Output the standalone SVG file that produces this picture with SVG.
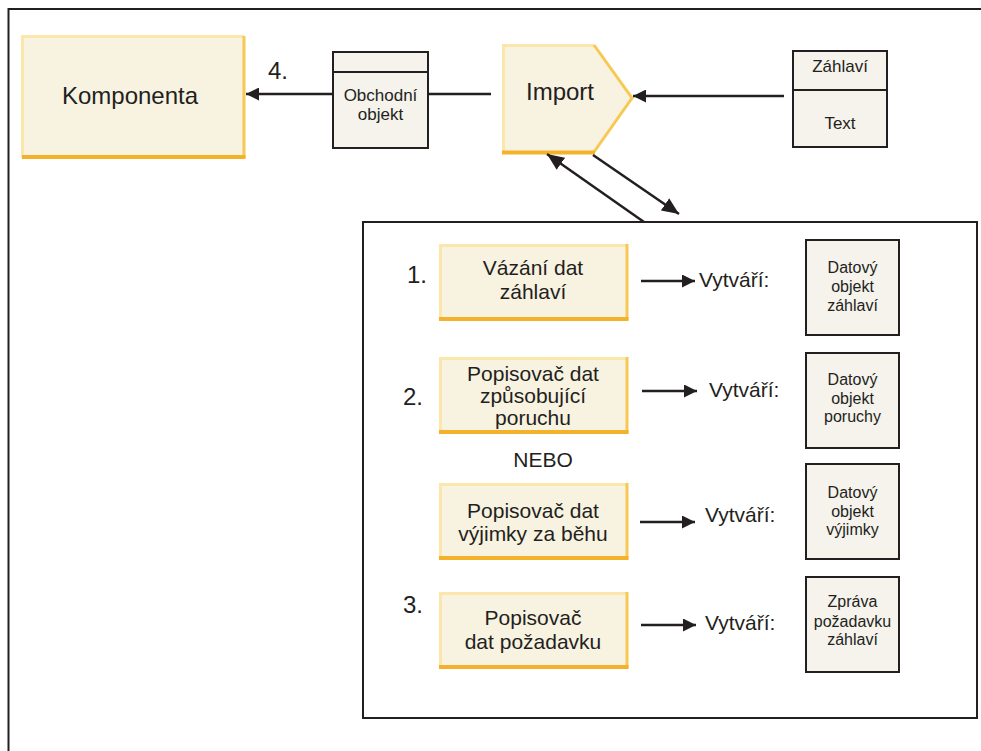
<svg xmlns="http://www.w3.org/2000/svg" width="981" height="751" viewBox="0 0 981 751">
<defs>
<style>
text{font-family:"Liberation Sans",Arial,sans-serif;fill:#231f20}
.c{text-anchor:middle}
.frame{fill:none;stroke:#231f20;stroke-width:2}
.yfill{fill:#f8f2e0}
.ylt{stroke:#fbe6ab;stroke-width:3;fill:none}
.yrt{stroke:#f7c853;stroke-width:3;fill:none}
.ybt{stroke:#f4b22b;stroke-width:4;fill:none}
.obj{fill:#f5f3ec;stroke:#231f20;stroke-width:2}
.ln{stroke:#231f20;stroke-width:2.5;fill:none}
.big{font-size:24px}
.num{font-size:24px}
.mid{font-size:21px}
.sm{font-size:17px}
.xs{font-size:16px}
</style>
<marker id="ah" viewBox="0 0 12 12" refX="12" refY="6" markerWidth="13" markerHeight="13" markerUnits="userSpaceOnUse" orient="auto">
<path d="M0,0 L12,6 L0,12 Z" fill="#231f20"/>
</marker>
<marker id="ahl" viewBox="0 0 16 14" refX="16" refY="7" markerWidth="17" markerHeight="15" markerUnits="userSpaceOnUse" orient="auto">
<path d="M0,0 L16,7 L0,14 Z" fill="#231f20"/>
</marker>
</defs>
<rect width="981" height="751" fill="#ffffff"/>
<path class="frame" d="M8.5,751 V9 H981"/>

<g id="komponenta">
<rect class="yfill" x="22" y="36" width="223" height="122"/>
<path class="ylt" d="M22.5,158 V36.5 H244"/>
<path class="yrt" d="M244,36 V158"/>
<path class="ybt" d="M22,157 H245.5"/>
<text class="big c" x="130" y="104">Komponenta</text>
</g>

<g id="label4"><text class="big" x="268" y="79">4.</text></g>

<g id="obchodni-objekt">
<rect class="obj" x="333" y="52" width="95" height="96"/>
<line x1="333" y1="72" x2="428" y2="72" stroke="#231f20" stroke-width="2"/>
<text class="sm c" x="380.5" y="101">Obchodní</text>
<text class="sm c" x="380.5" y="120">objekt</text>
</g>

<g id="import">
<path class="yfill" d="M502,44 H594 L633,98 L594,153 H502 Z"/>
<path class="ylt" d="M503.5,153 V45.5 H594"/>
<path class="yrt" d="M594,45 L632,98 L594,152"/>
<path class="ybt" d="M502,152.5 H595"/>
<text class="big c" x="560" y="100">Import</text>
</g>

<g id="zahlavi-text">
<rect class="obj" x="793" y="51" width="94" height="96"/>
<line x1="793" y1="90" x2="887" y2="90" stroke="#231f20" stroke-width="2"/>
<text class="sm c" x="840" y="72">Záhlaví</text>
<text class="sm c" x="840" y="129">Text</text>
</g>

<g id="inner-frame">
<rect x="363" y="222" width="614" height="496" fill="none" stroke="#231f20" stroke-width="2"/>
</g>

<g id="row1">
<text class="num" x="407" y="283">1.</text>
<rect class="yfill" x="439" y="244" width="189" height="76"/>
<path class="ylt" d="M440.5,320 V245.5 H627"/>
<path class="yrt" d="M627,244 V320"/>
<path class="ybt" d="M439,319 H628.5"/>
<text class="mid c" x="533" y="275">Vázání dat</text>
<text class="mid c" x="533" y="299">záhlaví</text>
<text class="mid" x="699" y="287">Vytváří:</text>
</g>
<g id="obj1">
<rect class="obj" x="806" y="240" width="93" height="95"/>
<text class="xs c" x="852.5" y="273">Datový</text>
<text class="xs c" x="852.5" y="292">objekt</text>
<text class="xs c" x="852.5" y="311">záhlaví</text>
</g>

<g id="row2">
<text class="num" x="403" y="405">2.</text>
<rect class="yfill" x="439" y="357" width="189" height="76"/>
<path class="ylt" d="M440.5,433 V358.5 H627"/>
<path class="yrt" d="M627,357 V433"/>
<path class="ybt" d="M439,432 H628.5"/>
<text class="mid c" x="533" y="381">Popisovač dat</text>
<text class="mid c" x="533" y="403">způsobující</text>
<text class="mid c" x="533" y="425">poruchu</text>
<text class="mid" x="709" y="397">Vytváří:</text>
</g>
<g id="obj2">
<rect class="obj" x="806" y="353" width="93" height="95"/>
<text class="xs c" x="852.5" y="385">Datový</text>
<text class="xs c" x="852.5" y="404">objekt</text>
<text class="xs c" x="852.5" y="422">poruchy</text>
</g>

<g id="nebo"><text class="mid c" x="543" y="467">NEBO</text></g>

<g id="row3">
<rect class="yfill" x="439" y="483" width="189" height="76"/>
<path class="ylt" d="M440.5,559 V484.5 H627"/>
<path class="yrt" d="M627,483 V559"/>
<path class="ybt" d="M439,558 H628.5"/>
<text class="mid c" x="533" y="518">Popisovač dat</text>
<text class="mid c" x="533" y="541">výjimky za běhu</text>
<text class="mid" x="705" y="522">Vytváří:</text>
</g>
<g id="obj3">
<rect class="obj" x="806" y="464" width="93" height="95"/>
<text class="xs c" x="852.5" y="498">Datový</text>
<text class="xs c" x="852.5" y="517">objekt</text>
<text class="xs c" x="852.5" y="535">výjimky</text>
</g>

<g id="row4">
<text class="num" x="403" y="613">3.</text>
<rect class="yfill" x="439" y="592" width="189" height="76"/>
<path class="ylt" d="M440.5,668 V593.5 H627"/>
<path class="yrt" d="M627,592 V668"/>
<path class="ybt" d="M439,667 H628.5"/>
<text class="mid c" x="533" y="625">Popisovač</text>
<text class="mid c" x="533" y="649">dat požadavku</text>
<text class="mid" x="705" y="630">Vytváří:</text>
</g>
<g id="obj4">
<rect class="obj" x="806" y="577" width="93" height="95"/>
<text class="xs c" x="852.5" y="607">Zpráva</text>
<text class="xs c" x="852.5" y="627">požadavku</text>
<text class="xs c" x="852.5" y="645">záhlaví</text>
</g>

<g id="connectors">
<line class="ln" x1="491" y1="94" x2="428" y2="94"/>
<line class="ln" x1="333" y1="94" x2="246" y2="94" marker-end="url(#ah)"/>
<line class="ln" x1="784" y1="96" x2="633" y2="96" marker-end="url(#ah)"/>
<line class="ln" x1="644" y1="222" x2="547" y2="154" marker-end="url(#ahl)"/>
<line class="ln" x1="593" y1="155" x2="679" y2="214" marker-end="url(#ahl)"/>
<line class="ln" x1="641" y1="281" x2="695" y2="281" marker-end="url(#ah)"/>
<line class="ln" x1="642" y1="391" x2="697" y2="391" marker-end="url(#ah)"/>
<line class="ln" x1="640" y1="522" x2="695" y2="522" marker-end="url(#ah)"/>
<line class="ln" x1="641" y1="625" x2="696" y2="625" marker-end="url(#ah)"/>
</g>
</svg>
